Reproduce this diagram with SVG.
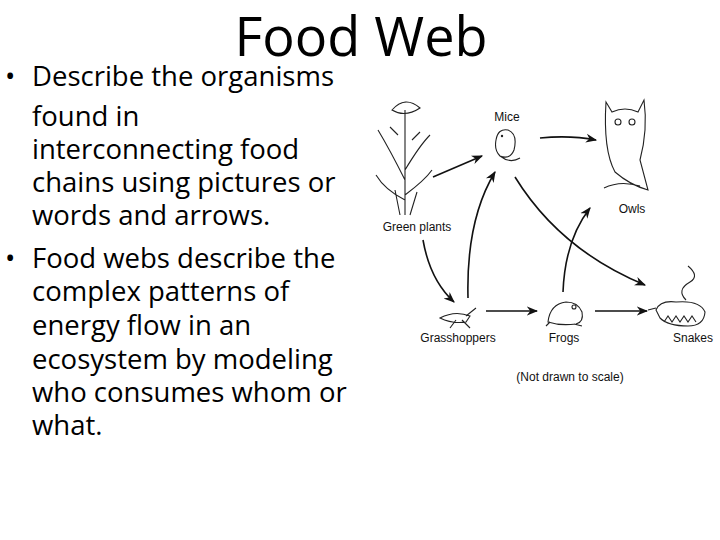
<svg xmlns="http://www.w3.org/2000/svg" width="720" height="540" viewBox="0 0 720 540">
<defs>
<style>
.t{font-family:"Open Sans","Liberation Sans",sans-serif;font-size:27.5px;fill:#000}
.l{font-family:"Liberation Sans",Arial,sans-serif;font-size:12px;fill:#111}
.c{fill:none;stroke:#111;stroke-width:1.6}
.d{fill:none;stroke:#222;stroke-width:1.1}
</style>
<marker id="ah" viewBox="0 0 10 10" refX="9" refY="5" markerWidth="7" markerHeight="7" orient="auto"><path d="M0,1 L10,5 L0,9 L3,5z" fill="#111"/></marker>
</defs>
<rect width="720" height="540" fill="#fff"/>
<text x="361" y="56" text-anchor="middle" style="font-family:'Open Sans','Liberation Sans',sans-serif;font-size:54px">Food Web</text>
<g id="bullets">
<text class="t" x="5" y="86">•</text>
<text class="t" x="32" y="86">Describe the organisms</text>
<text class="t" x="32" y="126">found in</text>
<text class="t" x="32" y="159">interconnecting food</text>
<text class="t" x="32" y="192">chains using pictures or</text>
<text class="t" x="32" y="225">words and arrows.</text>
<text class="t" x="5" y="268">•</text>
<text class="t" x="32" y="268">Food webs describe the</text>
<text class="t" x="32" y="301">complex patterns of</text>
<text class="t" x="32" y="335">energy flow in an</text>
<text class="t" x="32" y="369">ecosystem by modeling</text>
<text class="t" x="32" y="402">who consumes whom or</text>
<text class="t" x="32" y="435">what.</text>
</g>
<g id="plants">
<path class="d" d="M405,215 L405,110 M405,180 Q390,150 378,130 M405,170 Q420,145 430,135 M405,200 Q385,190 376,175 M405,195 Q425,180 432,170 M400,215 L395,190 M410,215 L417,192"/>
<path class="d" d="M392,110 Q405,95 420,108 Q405,118 392,110z M398,135 l-8,-8 M412,140 l8,-8"/>
<text class="l" x="417" y="231" text-anchor="middle">Green plants</text>
</g>
<g id="mice">
<path class="d" d="M496,140 Q498,128 508,130 Q518,134 514,150 Q510,160 500,156 Q494,150 496,140z M500,156 Q510,164 520,158"/>
<circle cx="502" cy="136" r="1.2" fill="#222"/>
<text class="l" x="507" y="121" text-anchor="middle">Mice</text>
</g>
<g id="owls">
<path class="d" d="M606,102 L612,112 Q625,106 638,112 L644,100 Q648,130 640,160 L648,190 Q630,185 615,172 Q603,150 606,102z M604,188 Q620,180 640,186"/>
<circle cx="618" cy="122" r="3" class="d"/><circle cx="632" cy="122" r="3" class="d"/>
<text class="l" x="632" y="213" text-anchor="middle">Owls</text>
</g>
<g id="grasshoppers">
<path class="d" d="M440,318 Q455,310 470,316 L466,322 Q452,324 440,318z M456,320 l-6,8 M462,320 l8,8 M466,316 l10,-8"/>
<text class="l" x="458" y="342" text-anchor="middle">Grasshoppers</text>
</g>
<g id="frogs">
<path class="d" d="M548,322 Q550,304 566,302 Q578,302 582,312 Q584,322 576,324 Q560,326 548,322z M550,322 l-4,4 M574,324 l8,2"/>
<circle cx="574" cy="307" r="2" class="d"/>
<text class="l" x="564" y="342" text-anchor="middle">Frogs</text>
</g>
<g id="snakes">
<path class="d" d="M656,310 Q660,300 676,302 Q700,300 705,312 Q704,326 688,326 Q668,326 660,318z M686,300 Q676,290 690,282 Q700,276 688,266 M648,310 L656,308"/>
<path class="d" d="M664,322 l4,-6 l4,6 l4,-6 l4,6 l4,-6 l4,6 l4,-6 l4,6"/>
<text class="l" x="693" y="342" text-anchor="middle">Snakes</text>
</g>
<text class="l" x="570" y="381" text-anchor="middle">(Not drawn to scale)</text>
<g id="connectors">
<path class="c" d="M433,177 L482,156" marker-end="url(#ah)"/>
<path class="c" d="M540,138 Q570,135 596,140" marker-end="url(#ah)"/>
<path class="c" d="M423,240 Q430,280 454,302" marker-end="url(#ah)"/>
<path class="c" d="M468,298 Q466,220 495,172" marker-end="url(#ah)"/>
<path class="c" d="M515,177 Q560,250 645,285" marker-end="url(#ah)"/>
<path class="c" d="M486,311 L537,311" marker-end="url(#ah)"/>
<path class="c" d="M563,292 Q565,240 590,208" marker-end="url(#ah)"/>
<path class="c" d="M595,311 L647,311" marker-end="url(#ah)"/>
</g>
</svg>
